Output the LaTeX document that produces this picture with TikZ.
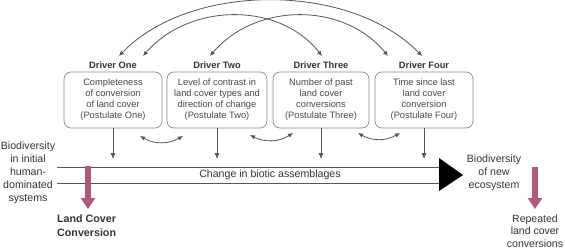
\documentclass[tikz,border=0pt]{standalone}
\usepackage{fontspec}
\setmainfont{Liberation Sans}
\usetikzlibrary{arrows.meta}
\definecolor{txt}{HTML}{333333}
\definecolor{boxc}{HTML}{8A8A8A}
\definecolor{linec}{HTML}{555555}
\definecolor{pinkc}{HTML}{B4577D}
\begin{document}
\begin{tikzpicture}[x=1pt,y=-1pt,
  drv/.style={font=\fontsize{9.3}{11}\selectfont\bfseries, text=txt, inner sep=0pt},
  dbox/.style={draw=boxc, line width=0.7pt, rounded corners=7pt, minimum width=98pt, minimum height=56pt,
     align=center, inner sep=0pt, text=txt!90, font=\fontsize{9.3}{11}\selectfont},
  side/.style={align=center, text=txt, inner sep=0pt, font=\fontsize{10.6}{12.9}\selectfont},
  tip/.style={-{Latex[length=6pt,width=5pt]}},
  dtip/.style={{Latex[length=5pt,width=4.5pt]}-{Latex[length=5pt,width=4.5pt]}},
  conn/.style={draw=linec, line width=0.8pt},
  pink/.style={draw=pinkc, line width=5.5pt, -{Triangle[length=11pt,width=14pt]}}
]
\useasboundingbox (0,0) rectangle (565,250);
% driver labels
\node[drv] (d1) at (113,65) {Driver One};
\node[drv] (d2) at (217,65) {Driver Two};
\node[drv] (d3) at (321,65) {Driver Three};
\node[drv] (d4) at (424,65) {Driver Four};
% boxes
\node[dbox] (b1) at (113,100) {Completeness\\of conversion\\of land cover\\(Postulate One)};
\node[dbox, minimum width=100pt] (b2) at (217,100) {Level of contrast in\\land cover types and\\direction of change\\(Postulate Two)};
\node[dbox, minimum width=96pt] (b3) at (321,100) {Number of past\\land cover\\conversions\\(Postulate Three)};
\node[dbox] (b4) at (424,100) {Time since last\\land cover\\conversion\\(Postulate Four)};
% arc end points
\coordinate (a1) at (119,56);
\coordinate (a2) at (143,56);
\coordinate (a3) at (210,56);
\coordinate (a4) at (322,56);
\coordinate (a5) at (388,56);
\coordinate (a6) at (422,56);
\draw[conn, dtip] (a1) .. controls (190,-18) and (350,-18) .. (a6);
\draw[conn, dtip] (a2) .. controls (190,2) and (280,2) .. (a4);
\draw[conn, dtip] (a3) .. controls (256,2) and (344,2) .. (a5);
% small double arrows between boxes
\coordinate (s1) at (140,136); \coordinate (s2) at (183,136);
\coordinate (s3) at (250,135); \coordinate (s4) at (293,133);
\coordinate (s5) at (358,133); \coordinate (s6) at (400,133);
\draw[conn, dtip] (s1) to[bend right=30] (s2);
\draw[conn, dtip] (s3) to[bend right=30] (s4);
\draw[conn, dtip] (s5) to[bend right=30] (s6);
% band
\coordinate (bl1) at (57,167); \coordinate (br1) at (439,167);
\coordinate (bl2) at (57,183); \coordinate (br2) at (439,183);
\draw[conn] (bl1) -- (br1);
\draw[conn] (bl2) -- (br2);
\coordinate (t1) at (439,158); \coordinate (t2) at (463,175); \coordinate (t3) at (439,191);
\fill[black] (t1) -- (t2) -- (t3) -- cycle;
\node[side] (chg) at (270,175) {Change in biotic assemblages};
% down arrows
\foreach \i/\x in {1/113,2/217,3/321,4/424}{
  \coordinate (e\i) at (\x,159);
  \draw[conn, tip] (b\i.south -| e\i) -- (e\i);
}
% side texts
\node[side] (left) at (28,173) {Biodiversity\\in initial\\human-\\dominated\\systems};
\node[side] (right) at (494,173) {Biodiversity\\of new\\ecosystem};
\node[side, anchor=west, font=\fontsize{10.7}{14}\selectfont\bfseries] (lcc) at (57,226) {Land Cover\\Conversion};
\node[side, font=\fontsize{10.5}{12.4}\selectfont] (rep) at (535,231) {Repeated\\land cover\\conversions};
% pink arrows
\coordinate (p1) at (88,166); \coordinate (p2) at (88,209);
\draw[pink] (p1) -- (p2);
\coordinate (p3) at (535,167); \coordinate (p4) at (535,209);
\draw[pink] (p3) -- (p4);
\end{tikzpicture}
\end{document}
